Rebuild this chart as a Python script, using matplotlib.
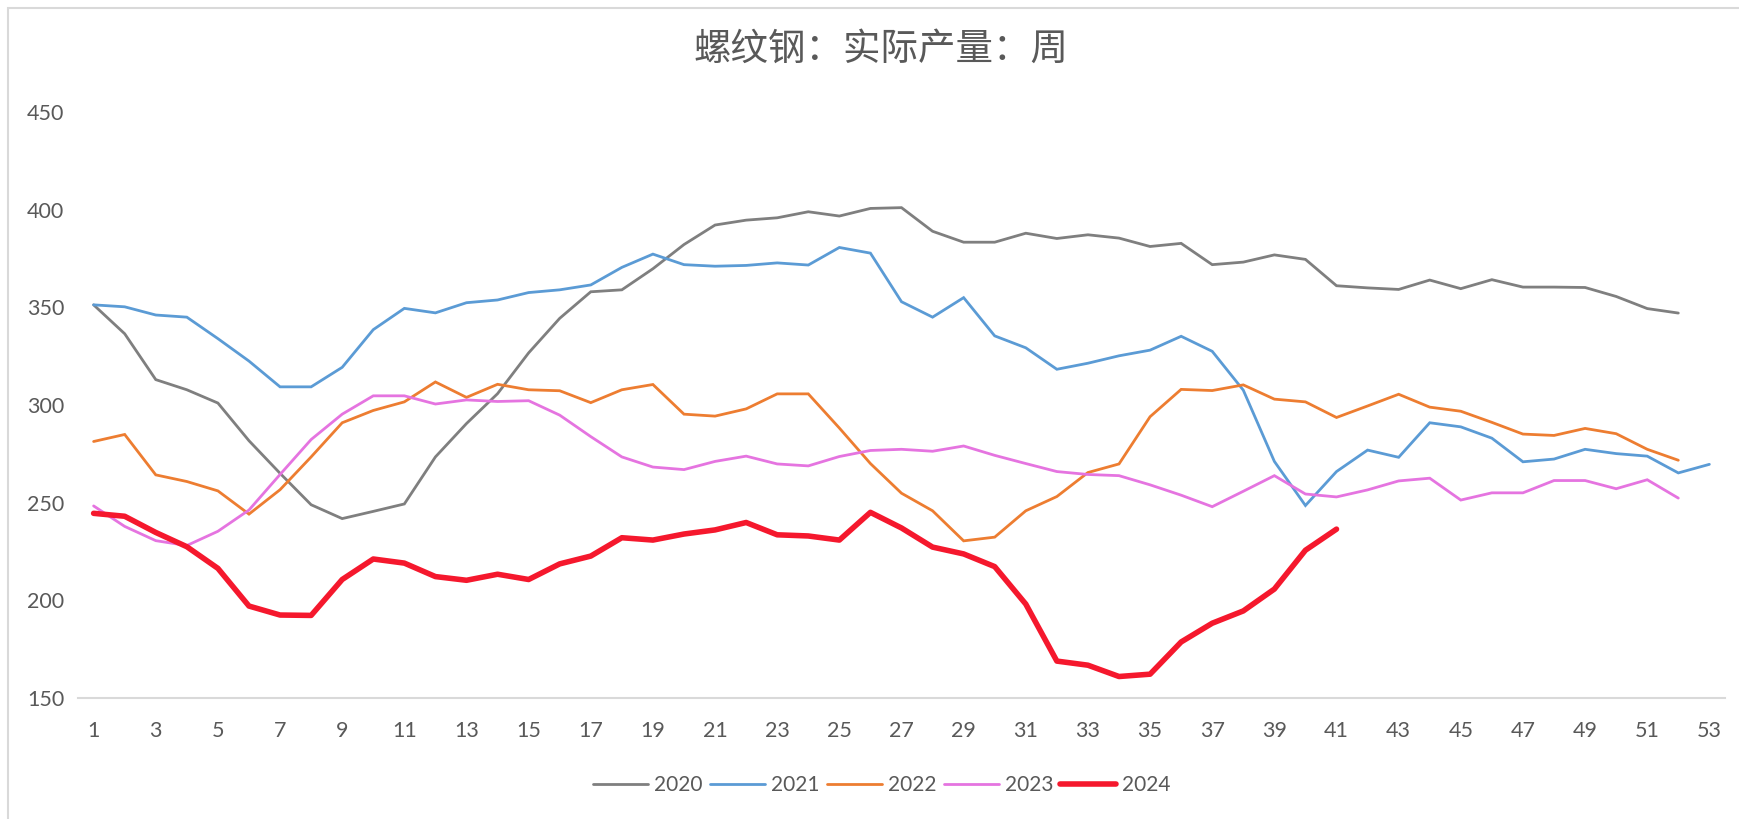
import matplotlib
matplotlib.use("Agg")
import matplotlib.pyplot as plt
from matplotlib.patches import Rectangle

weeks = list(range(1, 54))

y2020 = [351.3, 336.5, 313.0, 307.8, 301.0, 281.7, 265.0, 248.9, 241.8, 245.5,
         249.3, 273.4, 290.5, 305.8, 326.7, 344.4, 358.0, 359.0, 369.8, 382.2,
         392.2, 394.7, 395.9, 399.0, 396.8, 400.7, 401.1, 389.0, 383.4, 383.4,
         388.0, 385.3, 387.2, 385.5, 381.2, 382.8, 371.9, 373.2, 376.9, 374.6,
         361.1, 360.0, 359.2, 364.0, 359.6, 364.2, 360.4, 360.4, 360.2, 355.6,
         349.4, 347.1]
y2021 = [351.3, 350.3, 346.1, 345.0, 334.0, 322.5, 309.3, 309.3, 319.3, 338.6,
         349.5, 347.2, 352.4, 353.8, 357.6, 359.0, 361.5, 370.5, 377.3, 371.9,
         371.1, 371.5, 372.8, 371.7, 380.7, 377.8, 352.9, 345.0, 355.0, 335.4,
         329.3, 318.3, 321.4, 325.2, 328.1, 335.2, 327.5, 307.6, 271.1, 248.5,
         265.9, 276.9, 273.2, 290.9, 288.8, 283.0, 270.9, 272.3, 277.3, 275.1,
         273.8, 265.2, 269.6]
y2022 = [281.3, 284.9, 264.2, 260.8, 256.0, 244.1, 256.6, 273.4, 290.9, 297.2,
         301.6, 311.8, 303.9, 310.6, 307.8, 307.3, 301.2, 307.8, 310.5, 295.3,
         294.3, 298.0, 305.7, 305.7, 288.2, 270.0, 254.8, 245.8, 230.4, 232.3,
         245.8, 253.1, 265.4, 269.8, 294.0, 308.0, 307.4, 310.3, 303.0, 301.6,
         293.6, 299.5, 305.5, 298.9, 296.8, 291.1, 285.1, 284.4, 288.0, 285.3,
         277.3, 271.7]
y2023 = [248.3, 237.8, 230.5, 228.0, 235.3, 246.2, 264.4, 282.3, 295.3, 304.7,
         304.7, 300.5, 302.6, 301.8, 302.2, 294.8, 283.8, 273.4, 268.2, 266.9,
         271.1, 273.8, 269.8, 268.8, 273.6, 276.7, 277.3, 276.3, 279.0, 274.2,
         270.0, 265.9, 264.4, 263.8, 259.1, 253.8, 247.9, 255.8, 263.8, 254.4,
         252.9, 256.5, 261.1, 262.5, 251.3, 255.0, 255.0, 261.3, 261.3, 257.1,
         261.7, 252.3]
y2024 = [244.5, 243.0, 234.7, 227.4, 216.3, 197.0, 192.4, 192.2, 210.6, 221.1,
         219.0, 212.1, 210.2, 213.3, 210.6, 218.6, 222.6, 232.0, 230.8, 233.9,
         236.0, 239.8, 233.5, 232.9, 230.8, 245.0, 237.0, 227.2, 223.7, 217.2,
         198.0, 168.8, 166.7, 160.9, 162.1, 178.6, 188.2, 194.5, 205.7, 225.6,
         236.4]

series = [
    ("2020", y2020, "#7F7F7F", 2.0),
    ("2021", y2021, "#5B9BD5", 2.0),
    ("2022", y2022, "#ED7D31", 2.0),
    ("2023", y2023, "#E574E0", 2.0),
    ("2024", y2024, "#F5182D", 4.0),
]

yticks = [150, 200, 250, 300, 350, 400, 450]
xticks = list(range(1, 54, 2))
title = "螺纹钢：实际产量：周"

plt.rcParams['font.family'] = ['Lato', 'DejaVu Sans']
txt = "#595959"

fig = plt.figure(figsize=(17.39, 8.19), dpi=100)
ax = fig.add_axes([0.0449, 0.148, 0.947, 0.715])

for name, vals, col, lw in series:
    ax.plot(weeks[:len(vals)], vals, color=col, lw=lw, label=name,
            solid_joinstyle='miter' if lw < 3 else 'round', solid_capstyle='round')

ax.set_xlim(0.5, 53.5)
ax.set_ylim(150, 450)
ax.set_yticks(yticks)
ax.set_xticks(xticks)
ax.set_xticklabels([str(t) for t in xticks])
for s in ["top", "right", "left"]:
    ax.spines[s].set_visible(False)
ax.spines["bottom"].set_color("#D9D9D9")
ax.spines["bottom"].set_linewidth(1.5)
ax.tick_params(axis="both", length=0, labelsize=15.5, colors=txt)
ax.tick_params(axis="y", pad=10)
ax.tick_params(axis="x", pad=17)

fig.text(0.5066, 0.94, title, ha="center", va="center", fontsize=27,
         color=txt, family=['Noto Sans CJK SC', 'DejaVu Sans'], fontweight='light')

leg = fig.legend(loc="center", bbox_to_anchor=(0.507, 0.0415), ncol=5, frameon=False,
                 fontsize=15, handlelength=2.65, columnspacing=0.33, handletextpad=0.3)
for t in leg.get_texts():
    t.set_color(txt)

fig.patches.append(Rectangle((8 / 1739, -0.1), 1.2, 1 - 8 / 819 + 0.1,
                             transform=fig.transFigure, fill=False,
                             edgecolor="#D9D9D9", lw=1.5, zorder=10))

fig.savefig("out.png", dpi=100, facecolor="white")
